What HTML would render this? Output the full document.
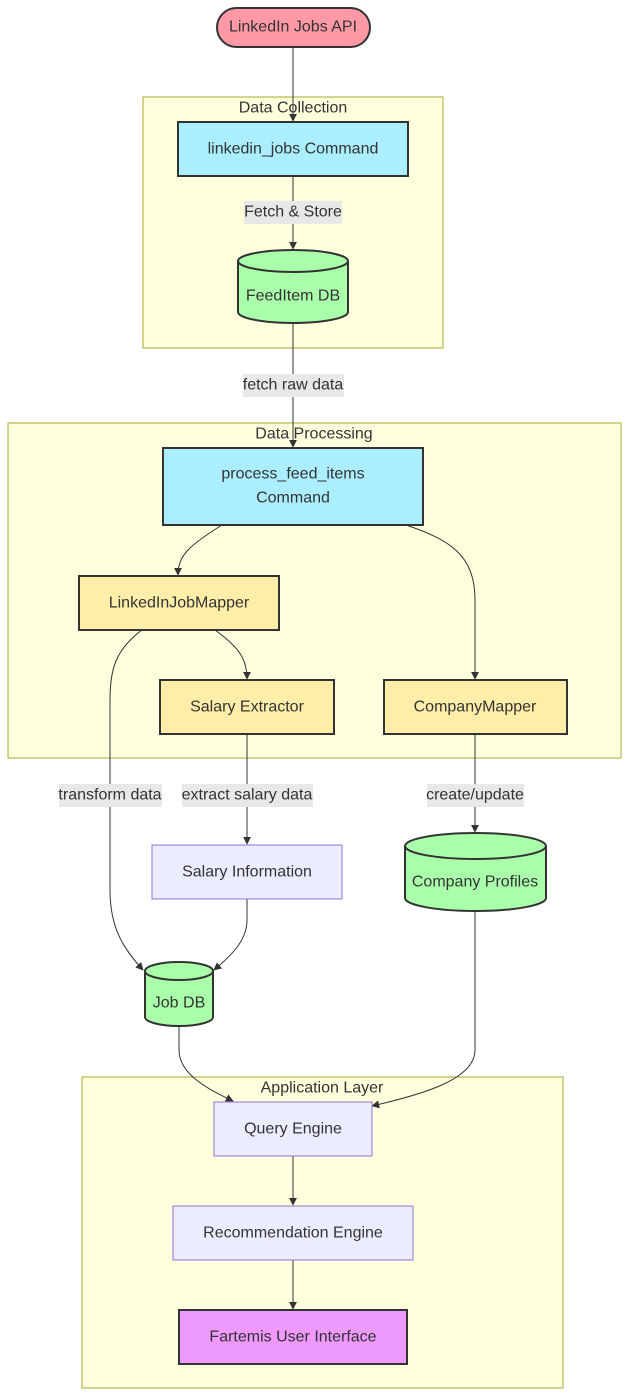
<!DOCTYPE html>
<html><head><meta charset="utf-8"><style>
html,body{margin:0;padding:0;background:#fff;}
svg{display:block;font-family:"Liberation Sans",Arial,sans-serif;}
text{fill:#333;font-size:16px;text-anchor:middle;dominant-baseline:central;}
</style></head><body>
<svg width="629" height="1397" viewBox="0 0 629 1397" xmlns="http://www.w3.org/2000/svg">
<defs><marker id="a" viewBox="0 0 10 10" refX="9" refY="5" markerWidth="8" markerHeight="8" orient="auto"><path d="M0,0L10,5L0,10z" fill="#333"/></marker></defs>
<!-- clusters -->
<rect x="143" y="97" width="300" height="251" fill="#ffffde" stroke="#aaaa33"/>
<text x="293" y="108">Data Collection</text>
<rect x="8" y="423" width="613" height="335" fill="#ffffde" stroke="#aaaa33"/>
<text x="314" y="434">Data Processing</text>
<rect x="82" y="1077" width="481" height="311" fill="#ffffde" stroke="#aaaa33"/>
<text x="322" y="1088">Application Layer</text>
<!-- edges -->
<g fill="none" stroke="#333" stroke-width="1">
<path d="M293,47V121" marker-end="url(#a)"/>
<path d="M293,176V249" marker-end="url(#a)"/>
<path d="M293,323V447" marker-end="url(#a)"/>
<path d="M222,525C190,545 178,555 178,575" marker-end="url(#a)"/>
<path d="M406,525C450,540 475,555 475,600V679" marker-end="url(#a)"/>
<path d="M215,630C240,648 247,660 247,679" marker-end="url(#a)"/>
<path d="M142,630C115,650 110,670 110,700V890C110,930 125,950 143,970" marker-end="url(#a)"/>
<path d="M247,734V844" marker-end="url(#a)"/>
<path d="M247,899V920C247,940 232,955 214,970" marker-end="url(#a)"/>
<path d="M475,734V832" marker-end="url(#a)"/>
<path d="M179,1026V1050C179,1075 210,1090 233,1101" marker-end="url(#a)"/>
<path d="M475,911V1050C475,1080 420,1095 372,1106" marker-end="url(#a)"/>
<path d="M293,1156V1205" marker-end="url(#a)"/>
<path d="M293,1260V1309" marker-end="url(#a)"/>
</g>
<!-- edge labels -->
<rect x="244" y="201" width="98" height="23" fill="#e8e8e8"/><text x="293" y="212">Fetch &amp; Store</text>
<rect x="243" y="374" width="101" height="23" fill="#e8e8e8"/><text x="293" y="385">fetch raw data</text>
<rect x="59" y="784" width="103" height="23" fill="#e8e8e8"/><text x="110" y="795">transform data</text>
<rect x="182" y="784" width="131" height="23" fill="#e8e8e8"/><text x="247" y="795">extract salary data</text>
<rect x="427" y="784" width="97" height="23" fill="#e8e8e8"/><text x="475" y="795">create/update</text>
<!-- nodes -->
<rect x="217" y="8" width="153" height="39" rx="19.5" fill="#ff99a6" stroke="#333" stroke-width="2"/>
<text x="293" y="27">LinkedIn Jobs API</text>
<rect x="178" y="122" width="230" height="54" fill="#aaeeff" stroke="#333" stroke-width="2"/>
<text x="293" y="149">linkedin_jobs Command</text>
<path d="M238,261V312A55,11 0 0 0 348,312V261A55,11 0 0 0 238,261A55,11 0 0 0 348,261" fill="#aaffaa" stroke="#333" stroke-width="2"/>
<text x="293" y="296">FeedItem DB</text>
<rect x="163" y="448" width="260" height="77" fill="#aaeeff" stroke="#333" stroke-width="2"/>
<text x="293" y="474">process_feed_items</text><text x="293" y="498">Command</text>
<rect x="79" y="576" width="200" height="54" fill="#ffeeaa" stroke="#333" stroke-width="2"/>
<text x="179" y="603">LinkedInJobMapper</text>
<rect x="160" y="680" width="174" height="54" fill="#ffeeaa" stroke="#333" stroke-width="2"/>
<text x="247" y="707">Salary Extractor</text>
<rect x="384" y="680" width="183" height="54" fill="#ffeeaa" stroke="#333" stroke-width="2"/>
<text x="475" y="707">CompanyMapper</text>
<rect x="152" y="845" width="190" height="54" fill="#ececff" stroke="#9370db" stroke-width="1"/>
<text x="247" y="872">Salary Information</text>
<path d="M405,846V898A70.5,13 0 0 0 546,898V846A70.5,13 0 0 0 405,846A70.5,13 0 0 0 546,846" fill="#aaffaa" stroke="#333" stroke-width="2"/>
<text x="475" y="882">Company Profiles</text>
<path d="M145,971V1017A34,9 0 0 0 213,1017V971A34,9 0 0 0 145,971A34,9 0 0 0 213,971" fill="#aaffaa" stroke="#333" stroke-width="2"/>
<text x="179" y="1003">Job DB</text>
<rect x="214" y="1102" width="158" height="54" fill="#ececff" stroke="#9370db" stroke-width="1"/>
<text x="293" y="1129">Query Engine</text>
<rect x="173" y="1206" width="240" height="54" fill="#ececff" stroke="#9370db" stroke-width="1"/>
<text x="293" y="1233">Recommendation Engine</text>
<rect x="179" y="1310" width="228" height="54" fill="#ee99ff" stroke="#333" stroke-width="2"/>
<text x="293" y="1337">Fartemis User Interface</text>
</svg>
</body></html>
